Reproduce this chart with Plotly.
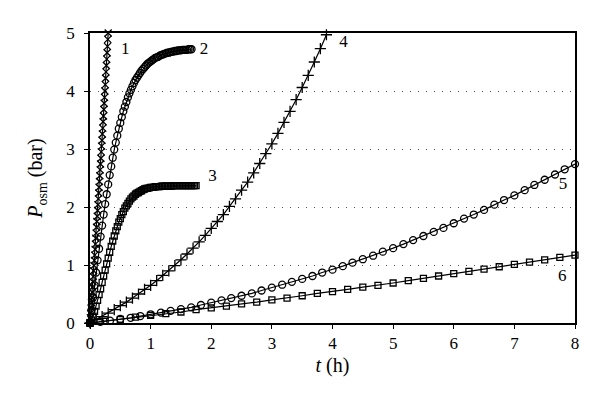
import plotly.graph_objects as go

# curve 1 (x markers)
t1 = [0, 0.006, 0.012, 0.018, 0.024, 0.03, 0.036, 0.042, 0.048, 0.054, 0.06, 0.066, 0.072,
      0.078, 0.084, 0.09, 0.096, 0.102, 0.108, 0.114, 0.12, 0.126, 0.132, 0.138, 0.144, 0.15,
      0.156, 0.162, 0.168, 0.174, 0.18, 0.186, 0.192, 0.198, 0.204, 0.21, 0.216, 0.222, 0.228,
      0.234, 0.24, 0.246, 0.252, 0.258, 0.264, 0.27, 0.276, 0.282, 0.288, 0.294, 0.3]
p1 = [0, 0.09, 0.17, 0.26, 0.35, 0.44, 0.53, 0.62, 0.71, 0.80, 0.90, 0.99, 1.08, 1.17, 1.27,
      1.36, 1.46, 1.55, 1.65, 1.75, 1.84, 1.94, 2.04, 2.14, 2.24, 2.34, 2.44, 2.54, 2.64, 2.74,
      2.84, 2.95, 3.05, 3.15, 3.26, 3.36, 3.47, 3.57, 3.68, 3.79, 3.89, 4.00, 4.11, 4.22, 4.33,
      4.44, 4.55, 4.66, 4.77, 4.89, 5.00]

# curve 2 (circles)
t2 = [0, 0.025, 0.05, 0.075, 0.1, 0.125, 0.15, 0.175, 0.2, 0.225, 0.25, 0.275, 0.3, 0.325,
      0.35, 0.375, 0.4, 0.425, 0.45, 0.475, 0.5, 0.525, 0.55, 0.575, 0.6, 0.625, 0.65, 0.675,
      0.7, 0.725, 0.75, 0.775, 0.8, 0.825, 0.85, 0.875, 0.9, 0.925, 0.95, 0.975, 1.0, 1.025,
      1.05, 1.075, 1.1, 1.125, 1.15, 1.175, 1.2, 1.225, 1.25, 1.275, 1.3, 1.325, 1.35, 1.375,
      1.4, 1.425, 1.45, 1.475, 1.5, 1.525, 1.55, 1.575, 1.6, 1.625, 1.65, 1.675]
p2 = [0, 0.22, 0.44, 0.65, 0.87, 1.08, 1.28, 1.49, 1.68, 1.87, 2.05, 2.22, 2.39, 2.55, 2.70,
      2.85, 2.99, 3.11, 3.23, 3.35, 3.45, 3.55, 3.65, 3.73, 3.81, 3.89, 3.96, 4.02, 4.08, 4.14,
      4.19, 4.23, 4.27, 4.31, 4.35, 4.38, 4.41, 4.44, 4.47, 4.49, 4.51, 4.53, 4.55, 4.57, 4.58,
      4.59, 4.61, 4.62, 4.63, 4.64, 4.65, 4.66, 4.66, 4.67, 4.68, 4.68, 4.69, 4.69, 4.70, 4.70,
      4.70, 4.71, 4.71, 4.71, 4.71, 4.72, 4.72, 4.72]

# curve 3 (squares)
t3 = [0, 0.025, 0.05, 0.075, 0.1, 0.125, 0.15, 0.175, 0.2, 0.225, 0.25, 0.275, 0.3, 0.325,
      0.35, 0.375, 0.4, 0.425, 0.45, 0.475, 0.5, 0.525, 0.55, 0.575, 0.6, 0.625, 0.65, 0.675,
      0.7, 0.725, 0.75, 0.775, 0.8, 0.825, 0.85, 0.875, 0.9, 0.925, 0.95, 0.975, 1.0, 1.025,
      1.05, 1.075, 1.1, 1.125, 1.15, 1.175, 1.2, 1.225, 1.25, 1.275, 1.3, 1.325, 1.35, 1.375,
      1.4, 1.425, 1.45, 1.475, 1.5, 1.525, 1.55, 1.575, 1.6, 1.625, 1.65, 1.675, 1.7, 1.725, 1.75]
p3 = [0, 0.05, 0.12, 0.20, 0.29, 0.39, 0.49, 0.59, 0.70, 0.81, 0.91, 1.02, 1.12, 1.22, 1.32,
      1.41, 1.50, 1.59, 1.66, 1.74, 1.80, 1.87, 1.92, 1.98, 2.02, 2.06, 2.10, 2.14, 2.17, 2.19,
      2.22, 2.24, 2.25, 2.27, 2.28, 2.30, 2.31, 2.32, 2.32, 2.33, 2.34, 2.34, 2.34, 2.35, 2.35,
      2.35, 2.35, 2.36, 2.36, 2.36, 2.36, 2.36, 2.36, 2.36, 2.36, 2.37, 2.37, 2.37, 2.37, 2.37,
      2.37, 2.37, 2.37, 2.37, 2.37, 2.37, 2.37, 2.37, 2.37, 2.37, 2.37]

# curve 4 (+ markers)
t4 = [0, 0.1, 0.2, 0.3, 0.4, 0.5, 0.6, 0.7, 0.8, 0.9, 1.0, 1.1, 1.2, 1.3, 1.4, 1.5, 1.6, 1.7,
      1.8, 1.9, 2.0, 2.1, 2.2, 2.3, 2.4, 2.5, 2.6, 2.7, 2.8, 2.9, 3.0, 3.1, 3.2, 3.3, 3.4, 3.5,
      3.6, 3.7, 3.8, 3.9]
p4 = [0, 0.06, 0.11, 0.17, 0.23, 0.30, 0.36, 0.43, 0.50, 0.58, 0.65, 0.73, 0.82, 0.90, 0.99,
      1.09, 1.19, 1.29, 1.40, 1.51, 1.63, 1.75, 1.87, 2.01, 2.14, 2.29, 2.43, 2.59, 2.75, 2.92,
      3.09, 3.27, 3.46, 3.65, 3.85, 4.06, 4.27, 4.50, 4.73, 4.97]

# curve 5 (circles, every 10 min)
t5 = [0, 0.17, 0.33, 0.5, 0.67, 0.83, 1.0, 1.17, 1.33, 1.5, 1.67, 1.83, 2.0, 2.17, 2.33, 2.5,
      2.67, 2.83, 3.0, 3.17, 3.33, 3.5, 3.67, 3.83, 4.0, 4.17, 4.33, 4.5, 4.67, 4.83, 5.0, 5.17,
      5.33, 5.5, 5.67, 5.83, 6.0, 6.17, 6.33, 6.5, 6.67, 6.83, 7.0, 7.17, 7.33, 7.5, 7.67, 7.83, 8.0]
p5 = [0, 0.02, 0.04, 0.07, 0.09, 0.12, 0.15, 0.18, 0.21, 0.24, 0.27, 0.31, 0.35, 0.39, 0.43,
      0.47, 0.51, 0.56, 0.61, 0.66, 0.71, 0.76, 0.81, 0.87, 0.92, 0.98, 1.04, 1.10, 1.16, 1.23,
      1.29, 1.36, 1.43, 1.50, 1.57, 1.64, 1.72, 1.80, 1.87, 1.95, 2.04, 2.12, 2.20, 2.29, 2.38,
      2.47, 2.56, 2.65, 2.74]

# curve 6 (squares, every 15 min)
t6 = [0, 0.25, 0.5, 0.75, 1.0, 1.25, 1.5, 1.75, 2.0, 2.25, 2.5, 2.75, 3.0, 3.25, 3.5, 3.75,
      4.0, 4.25, 4.5, 4.75, 5.0, 5.25, 5.5, 5.75, 6.0, 6.25, 6.5, 6.75, 7.0, 7.25, 7.5, 7.75, 8.0]
p6 = [0, 0.03, 0.06, 0.10, 0.13, 0.16, 0.19, 0.23, 0.26, 0.29, 0.33, 0.36, 0.40, 0.43, 0.47,
      0.51, 0.54, 0.58, 0.62, 0.65, 0.69, 0.73, 0.77, 0.81, 0.85, 0.89, 0.93, 0.97, 1.01, 1.05,
      1.09, 1.13, 1.17]

# numero de cada curva
rotulos = ["1", "2", "3", "4", "5", "6"]
rot_t = [0.58, 1.88, 2.02, 4.18, 7.8, 7.79]
rot_p = [4.71, 4.71, 2.52, 4.83, 2.38, 0.80]

fonte = "Liberation Serif"

series = [
    (t1, p1, "x-thin-open", 7),
    (t2, p2, "circle-open", 7),
    (t3, p3, "square-open", 6),
    (t4, p4, "cross-thin-open", 8),
    (t5, p5, "circle-open", 7),
    (t6, p6, "square-open", 6),
]

fig = go.Figure()
for t, p, simbolo, tam in series:
    fig.add_trace(go.Scatter(
        x=t, y=p, mode="lines+markers",
        line=dict(color="black", width=1.2),
        marker=dict(symbol=simbolo, size=tam, color="black", line=dict(color="black", width=1.3)),
        cliponaxis=False, showlegend=False,
    ))

fig.add_trace(go.Scatter(
    x=rot_t, y=rot_p, mode="text", text=rotulos,
    textfont=dict(family=fonte, size=17, color="black"),
    showlegend=False, cliponaxis=False,
))

# a pagina tem 8px de margem no body, por isso as margens menores
fig.update_layout(
    width=600, height=408,
    margin=dict(l=82, r=33, t=25, b=93),
    paper_bgcolor="white", plot_bgcolor="white",
    font=dict(family=fonte, size=17, color="black"),
)
fig.update_xaxes(
    range=[0, 8], dtick=1, showgrid=False, zeroline=False,
    showline=True, linecolor="black", linewidth=1.5, mirror=True,
    ticks="outside", ticklen=4, tickcolor="black",
    title=dict(text="<i>t</i> (h)", standoff=6),
)
fig.update_yaxes(
    range=[0, 5], dtick=1, zeroline=False,
    showgrid=True, gridcolor="#555555", gridwidth=1, griddash="1px,7px",
    showline=True, linecolor="black", linewidth=1.5, mirror=True,
    ticks="outside", ticklen=4, tickcolor="black", ticklabelstandoff=6,
    title=dict(text="<i>P</i><sub>osm</sub> (bar)", standoff=18),
)

fig.write_html("out.html")
